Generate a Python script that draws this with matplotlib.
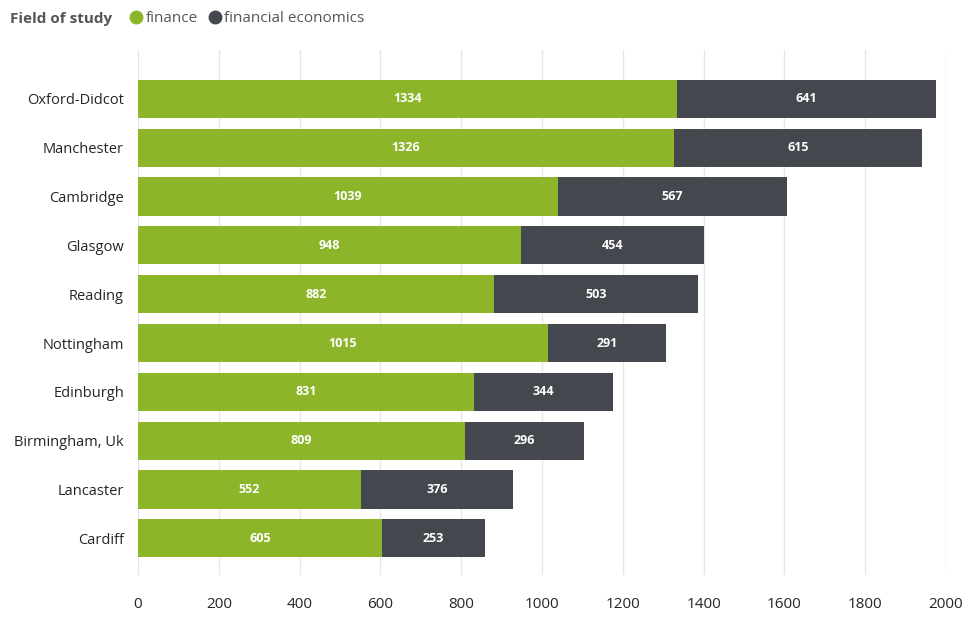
import matplotlib.pyplot as plt
from matplotlib.lines import Line2D

plt.rcParams['font.family'] = ['Open Sans', 'DejaVu Sans']

# data
cities = ['Oxford-Didcot', 'Manchester', 'Cambridge', 'Glasgow', 'Reading',
          'Nottingham', 'Edinburgh', 'Birmingham, Uk', 'Lancaster', 'Cardiff']
finance = [1334, 1326, 1039, 948, 882, 1015, 831, 809, 552, 605]
fin_econ = [641, 615, 567, 454, 503, 291, 344, 296, 376, 253]
series_names = ['finance', 'financial economics']
xticks = [0, 200, 400, 600, 800, 1000, 1200, 1400, 1600, 1800, 2000]

green = '#8db52a'
dark = '#45474f'

fig = plt.figure(figsize=(9.66, 6.19), dpi=100)
ax = fig.add_axes([138 / 966, 44 / 619, 808 / 966, 525 / 619])

y = list(range(len(cities)))
ax.barh(y, finance, height=0.78, color=green, zorder=2)
ax.barh(y, fin_econ, left=finance, height=0.78, color=dark, zorder=2)

for i in y:
    ax.text(finance[i] / 2, i, str(finance[i]), ha='center', va='center',
            color='white', fontsize=9, fontweight='bold', zorder=3)
    ax.text(finance[i] + fin_econ[i] / 2, i, str(fin_econ[i]), ha='center',
            va='center', color='white', fontsize=9, fontweight='bold', zorder=3)

ax.set_xlim(0, 2000)
ax.set_ylim(9.75, -1.0)
ax.set_yticks(y)
ax.set_yticklabels(cities, fontsize=10.5, color='#252525')
ax.set_xticks(xticks)
ax.set_xticklabels([str(t) for t in xticks], fontsize=11, color='#252525')
ax.tick_params(axis='both', length=0)
ax.tick_params(axis='x', pad=16)
ax.tick_params(axis='y', pad=10)
ax.grid(axis='x', color='#e6e6e6', linewidth=1, zorder=0)
for s in ax.spines.values():
    s.set_visible(False)

# legend at top
fig.text(10 / 966, 1 - 19 / 619, 'Field of study', fontsize=11, fontweight='bold',
         color='#555555', va='center', ha='left')
handles = [Line2D([], [], marker='o', linestyle='', markersize=9, color=c)
           for c in [green, dark]]
fig.legend(handles, series_names, loc='center left',
           bbox_to_anchor=(115 / 966, 1 - 19 / 619), ncol=2, frameon=False,
           handletextpad=0.1, columnspacing=0.6, fontsize=11,
           labelcolor='#555555', handlelength=1.0)

fig.savefig('out.png', dpi=100)
